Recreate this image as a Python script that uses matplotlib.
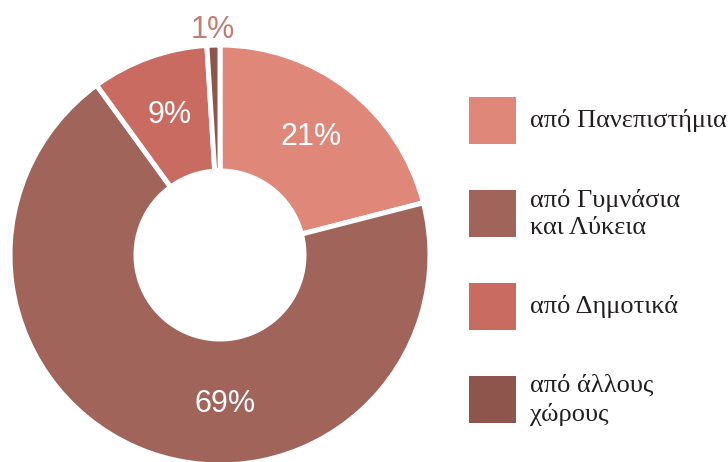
import matplotlib.pyplot as plt
from matplotlib.patches import Rectangle
import numpy as np

# data
labels = ['από Πανεπιστήμια', 'από Γυμνάσια\nκαι Λύκεια', 'από Δημοτικά', 'από άλλους\nχώρους']
values = [21, 69, 9, 1]
pct_labels = ['21%', '69%', '9%', '1%']
colors = ['#DF887A', '#A0645A', '#C96B60', '#8E554D']

W, H = 728, 462
fig = plt.figure(figsize=(W / 100, H / 100), dpi=100)

# pie axes: center (220, 255) px from top, radius 210 px
cx, cy, r = 220, 255, 210
ax = fig.add_axes([(cx - r) / W, (H - cy - r) / H, 2 * r / W, 2 * r / H])
wedges, _ = ax.pie(values, colors=colors, startangle=90, counterclock=False, radius=1,
                   wedgeprops=dict(width=0.6, edgecolor='white', linewidth=3.6))
ax.set_xlim(-1, 1)
ax.set_ylim(-1, 1)
ax.set_aspect('equal')
ax.axis('off')

for i, w in enumerate(wedges):
    ang = np.deg2rad((w.theta1 + w.theta2) / 2)
    if values[i] < 5:
        d, col = 1.07, '#C07E72'
    else:
        d, col = 0.71, 'white'
    x, y = d * np.cos(ang), d * np.sin(ang)
    if values[i] > 50:
        # the big slice's label sits straight under the hole
        x, y = 0.025, -0.71
    ax.text(x, y, pct_labels[i], ha='center', va='center', color=col,
            fontsize=22, family='Liberation Sans')

# legend drawn by hand
lax = fig.add_axes([469 / W, 0, (W - 469) / W, 1])
lax.set_xlim(0, W - 469)
lax.set_ylim(H, 0)
lax.axis('off')
for i, lab in enumerate(labels):
    top = 97 + i * 93
    lax.add_patch(Rectangle((0, top), 47, 47, color=colors[i], lw=0))
    lax.text(61, top + 24, lab, ha='left', va='center', fontsize=19,
             family='Liberation Serif', color='#231F20', linespacing=1.33)

fig.savefig('out.png', dpi=100)
